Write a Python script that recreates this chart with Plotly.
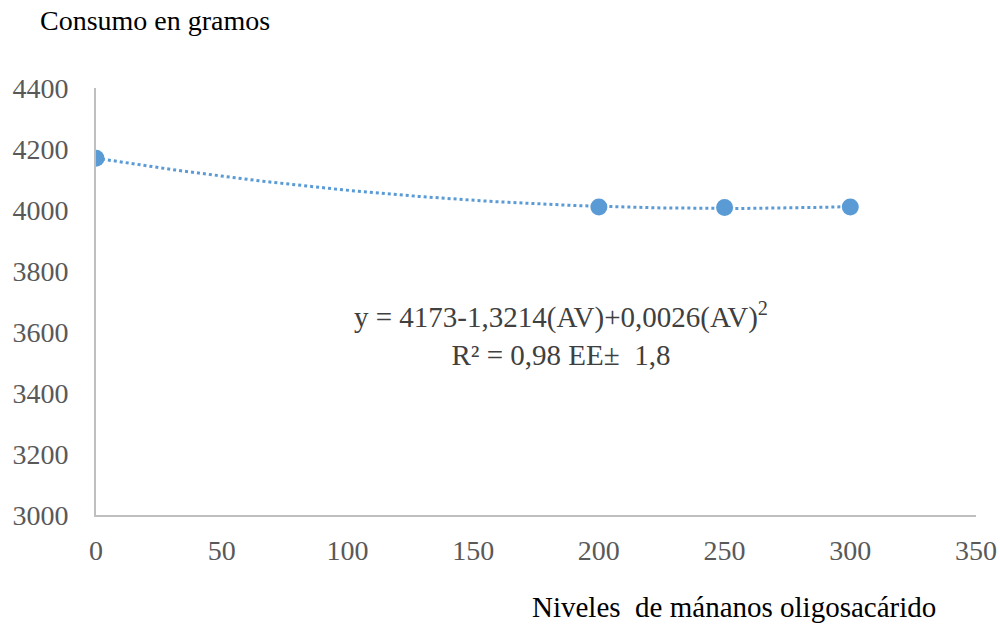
import numpy as np
import plotly.graph_objects as go

# Mannan-oligosaccharide levels and feed consumption (g)
niveles = [0, 200, 250, 300]
consumo = [4170, 4010, 4008, 4010]

x_ticks = [0, 50, 100, 150, 200, 250, 300, 350]
y_ticks = [3000, 3200, 3400, 3600, 3800, 4000, 4200, 4400]

# Polynomial (order 2) trend line fitted to the observations
coef = np.polyfit(niveles, consumo, 2)
x_fit = np.linspace(min(niveles), max(niveles), 200)
y_fit = np.polyval(coef, x_fit)

BLUE = "#5B9BD5"
SERIF = "Liberation Serif"
TICK_FONT = dict(family=SERIF, size=28, color="#595959")

fig = go.Figure()
fig.add_trace(go.Scatter(
    x=x_fit, y=y_fit, mode="lines",
    line=dict(color=BLUE, width=3, dash="dot"),
    hoverinfo="skip", showlegend=False,
))
fig.add_trace(go.Scatter(
    x=niveles, y=consumo, mode="markers",
    marker=dict(color=BLUE, size=17),
    showlegend=False,
))

# Regression equation and fit statistics
fig.add_annotation(
    x=0.528, y=0.425, xref="paper", yref="paper",
    text="y = 4173-1,3214(AV)+0,0026(AV)<sup>2</sup><br>R² = 0,98 EE±  1,8",
    showarrow=False, align="center",
    font=dict(family=SERIF, size=29, color="#404040"),
)

# Axis captions
fig.add_annotation(
    x=-0.066, y=1.0, xref="paper", yref="paper", yshift=68,
    xanchor="left", yanchor="middle",
    text="Consumo en gramos", showarrow=False,
    font=dict(family=SERIF, size=28, color="#000000"),
)
fig.add_annotation(
    x=0.957, y=0, xref="paper", yref="paper", yshift=-92,
    xanchor="right", yanchor="middle",
    text="Niveles  de mánanos oligosacárido", showarrow=False,
    font=dict(family=SERIF, size=29, color="#000000"),
)

fig.update_layout(
    width=1000, height=624,
    margin=dict(l=96, r=24, t=88, b=109),
    paper_bgcolor="white", plot_bgcolor="white",
    font=dict(family=SERIF, size=28, color="#595959"),
)
fig.update_xaxes(
    range=[0, 350], tickvals=x_ticks, showgrid=False, zeroline=False,
    showline=True, linecolor="#BFBFBF", linewidth=2, ticks="",
    tickfont=TICK_FONT, ticklabelstandoff=9, ticklabeloverflow="allow",
    automargin=False,
)
fig.update_yaxes(
    range=[3000, 4400], tickvals=y_ticks, showgrid=False, zeroline=False,
    showline=True, linecolor="#BFBFBF", linewidth=2, ticks="",
    tickfont=TICK_FONT, ticklabelstandoff=20, ticklabeloverflow="allow",
    automargin=False,
)

fig.write_html("out.html")
